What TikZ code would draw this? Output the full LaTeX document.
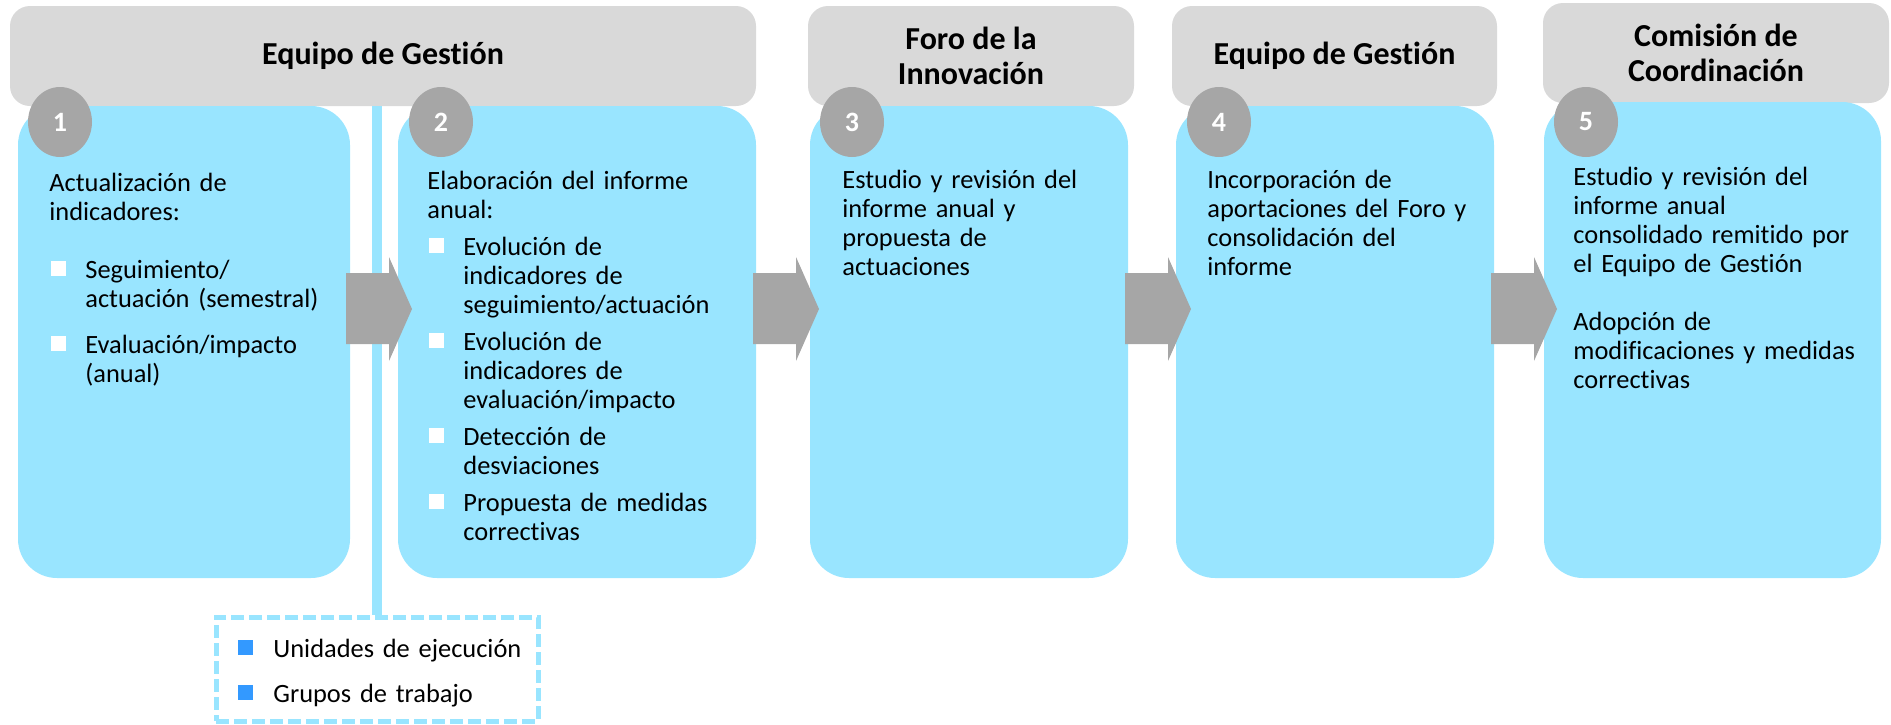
\documentclass[tikz,border=0pt]{standalone}
\usepackage{fontspec}
\setmainfont{Carlito}[Ligatures=NoCommon]
\usepackage{xcolor}
\usepackage{tikz}
\usetikzlibrary{shapes.geometric}

\definecolor{headgray}{HTML}{D9D9D9}
\definecolor{stepblue}{HTML}{99E5FF}
\definecolor{markgray}{HTML}{A6A6A6}
\definecolor{legblue}{HTML}{3399FF}

\newcommand{\sqmark}[1]{\textcolor{#1}{\rule[1pt]{7.5pt}{7.5pt}}}
\newcommand{\sqitem}[1]{\par\hangindent=18pt\hangafter=1\noindent
  \makebox[18pt][l]{\hspace{0.75pt}\sqmark{white}}#1\par}

\begin{document}
\begin{tikzpicture}[x=0.5pt,y=-0.5pt,
  headbox/.style={fill=headgray,rounded corners=10pt,inner sep=0pt,minimum height=50pt,
    align=center,font=\fontsize{16}{17.5}\selectfont\bfseries},
  stepbox/.style={fill=stepblue,rounded corners=19.5pt,inner sep=0pt},
  stepnum/.style={ellipse,fill=markgray,minimum width=32pt,minimum height=35pt,inner sep=0pt,
    text=white,font=\fontsize{14}{16}\selectfont\bfseries},
  steptxt/.style={anchor=base west,inner sep=0pt,text width=#1,align=left,
    font=\fontsize{13.2}{14.5}\selectfont},
  steptxt/.default=150pt,
  legbox/.style={draw=stepblue,line width=2.5pt,dash pattern=on 6.5pt off 2.5pt,inner sep=0pt}]
  \useasboundingbox (0,0) rectangle (1891,724);
  %% header bands
  \node[headbox,minimum width=373pt] (h1) at (383,56) {Equipo de Gestión};
  \node[headbox,minimum width=163pt] (h2) at (971,56) {Foro de la\\Innovación};
  \node[headbox,minimum width=162.5pt] (h3) at (1334.5,56) {Equipo de Gestión};
  \node[headbox,minimum width=173pt] (h4) at (1716,53) {Comisión de\\Coordinación};
  %% step boxes
  \node[stepbox,minimum width=166pt,minimum height=236pt] (b1) at (184,342) {};
  \node[stepbox,minimum width=179pt,minimum height=236pt] (b2) at (577,342) {};
  \node[stepbox,minimum width=159pt,minimum height=236pt] (b3) at (969,342) {};
  \node[stepbox,minimum width=159pt,minimum height=236pt] (b4) at (1335,342) {};
  \node[stepbox,minimum width=168.5pt,minimum height=238pt] (b5) at (1712.5,340) {};
  % numbered markers
  \foreach \i/\cx in {1/60,2/441,3/852,4/1219,5/1586}
    \node[stepnum] (n\i) at (\cx,122) {\i};
  %% legend and its link to the first band
  \node[legbox,minimum width=161pt,minimum height=52pt] (leg) at (377,669) {};
  \draw[stepblue,line width=5pt] (leg.north) -- (leg.north |- h1.south);
  \node[steptxt] (legtxt) at (238,657)
    {\makebox[17.5pt][l]{\sqmark{legblue}}Unidades de ejecución\\[8pt]
     \makebox[17.5pt][l]{\sqmark{legblue}}Grupos de trabajo};
  %% block arrows between steps
  \foreach \ax in {346,753,1125,1491}
    \fill[markgray] (\ax,273) -- ++(43,0) -- ++(0,-16) -- ++(23,52)
      -- ++(-23,52) -- ++(0,-17) -- ++(-43,0) -- cycle;
  %% step texts
  \node[steptxt] (t1) at (49,191) {Actualización de\\indicadores:\par\vspace{14.5pt}
    \sqitem{Seguimiento/\newline actuación (semestral)}\vspace{8.5pt}
    \sqitem{Evaluación/impacto\newline (anual)}};
  \node[steptxt=160pt] (t2) at (427,189) {Elaboración del informe\\anual:\par\vspace{4pt}
    \sqitem{Evolución de\newline indicadores de\newline seguimiento/actuación}\vspace{4pt}
    \sqitem{Evolución de\newline indicadores de\newline evaluación/impacto}\vspace{4pt}
    \sqitem{Detección de\newline desviaciones}\vspace{4pt}
    \sqitem{Propuesta de medidas\newline correctivas}};
  \node[steptxt] (t3) at (842,188)
    {Estudio y revisión del\\informe anual y\\propuesta de\\actuaciones};
  \node[steptxt=145pt] (t4) at (1207,188)
    {Incorporación de\\aportaciones del Foro y\\consolidación del\\informe};
  \node[steptxt] (t5) at (1573,185)
    {Estudio y revisión del\\informe anual\\consolidado remitido por\\el Equipo de Gestión\par
     \vspace{14.5pt}Adopción de\\modificaciones y medidas\\correctivas};
\end{tikzpicture}
\end{document}
